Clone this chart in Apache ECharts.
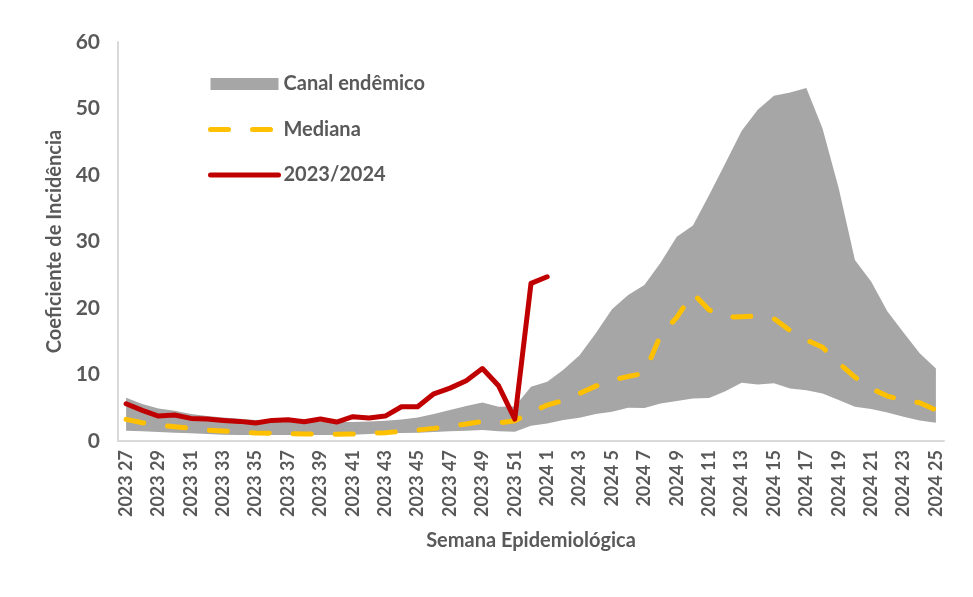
<!DOCTYPE html>
<html><head><meta charset="utf-8">
<script src="https://cdn.jsdelivr.net/npm/echarts@6/dist/echarts.min.js"></script>
<style>html,body{margin:0;padding:0;background:#fff}#c{width:973px;height:597px}</style>
</head><body><div id="c"></div>
<script>
const weeks = ['2023 27','2023 28','2023 29','2023 30','2023 31','2023 32','2023 33','2023 34','2023 35','2023 36','2023 37','2023 38','2023 39','2023 40','2023 41','2023 42','2023 43','2023 44','2023 45','2023 46','2023 47','2023 48','2023 49','2023 50','2023 51','2023 52',
'2024 1','2024 2','2024 3','2024 4','2024 5','2024 6','2024 7','2024 8','2024 9','2024 10','2024 11','2024 12','2024 13','2024 14','2024 15','2024 16','2024 17','2024 18','2024 19','2024 20','2024 21','2024 22','2024 23','2024 24','2024 25'];
const canalLower = [1.55,1.45,1.35,1.25,1.15,1.05,0.95,0.9,0.9,0.9,0.9,0.9,0.9,0.9,0.95,1.05,1.15,1.2,1.25,1.35,1.45,1.55,1.65,1.45,1.4,2.3,2.65,3.15,3.5,4.05,4.4,5.0,4.95,5.65,6.0,6.4,6.45,7.5,8.75,8.5,8.7,7.9,7.65,7.15,6.15,5.15,4.8,4.3,3.65,3.1,2.75];
const canalUpper = [6.5,5.55,4.9,4.55,4.05,3.75,3.55,3.35,3.15,3.1,3.0,2.85,2.85,2.85,2.85,2.95,3.05,3.25,3.55,4.05,4.65,5.25,5.8,5.15,5.2,8.15,8.9,10.7,12.9,16.2,19.8,21.95,23.45,26.8,30.7,32.4,37.0,41.75,46.6,49.8,51.9,52.4,53.1,47.0,38.0,27.2,24.0,19.5,16.3,13.2,10.9];
const mediana = [3.25,2.75,2.4,2.15,1.9,1.65,1.5,1.35,1.2,1.15,1.1,1.05,1.05,1.0,1.05,1.15,1.25,1.45,1.65,1.9,2.25,2.55,2.95,2.7,3.05,4.3,5.4,6.1,7.15,8.25,9.15,9.7,10.2,15.9,18.6,22.2,19.7,18.6,18.7,18.8,18.4,16.6,15.2,14.1,11.7,9.6,7.9,6.75,6.15,5.75,4.65];
const atual = [5.6,4.6,3.75,3.9,3.4,3.3,3.1,2.95,2.7,3.1,3.2,2.9,3.3,2.85,3.65,3.45,3.75,5.15,5.15,7.1,7.95,9.05,10.9,8.3,3.3,23.7,24.7];
const yTicks = [0,10,20,30,40,50,60];

const band = canalUpper.map((u,i)=>+(u-canalLower[i]).toFixed(3));
const FONT = 'Lato';
const TXT = '#595959';
const chart = echarts.init(document.getElementById('c'), null, {renderer:'canvas'});
chart.setOption({
  animation:false,
  backgroundColor:'#ffffff',
  grid:{left:118,right:29,top:42,bottom:156,containLabel:false},
  legend:{
    orient:'vertical', left:203, top:69, itemWidth:68, itemHeight:12, itemGap:25.5,
    textStyle:{fontFamily:FONT,fontWeight:'bold',fontSize:20,color:TXT,lineHeight:20},
    data:[
      {name:'Canal endêmico', icon:'rect'},
      {name:'Mediana', itemStyle:{opacity:0}, lineStyle:{width:5,cap:'round',type:[18,24]}},
      {name:'2023/2024', itemStyle:{opacity:0}, lineStyle:{width:5,cap:'round'}}
    ]
  },
  xAxis:{
    type:'category', data:weeks, boundaryGap:true,
    axisLine:{show:true,lineStyle:{color:'#D9D9D9',width:2}},
    axisTick:{show:false},
    axisLabel:{rotate:90, interval:1, margin:9, fontFamily:FONT, fontWeight:'bold', fontSize:18, color:TXT},
    name:'Semana Epidemiológica', nameLocation:'middle', nameGap:90,
    nameTextStyle:{fontFamily:FONT,fontWeight:'bold',fontSize:20,color:TXT}
  },
  yAxis:{
    type:'value', min:0, max:60, interval:10,
    axisLine:{show:true,lineStyle:{color:'#D9D9D9',width:2}},
    axisTick:{show:false}, splitLine:{show:false},
    axisLabel:{margin:18, fontFamily:FONT, fontWeight:'bold', fontSize:21, color:TXT,
      formatter:v=>yTicks.includes(v)?String(v):''},
    name:'Coeficiente de Incidência', nameLocation:'middle', nameGap:48, nameRotate:90,
    nameTextStyle:{fontFamily:FONT,fontWeight:'bold',fontSize:20,color:TXT}
  },
  series:[
    {name:'lower', type:'line', stack:'canal', data:canalLower, symbol:'none', lineStyle:{opacity:0}, areaStyle:{opacity:0}, silent:true, z:1},
    {name:'Canal endêmico', type:'line', stack:'canal', data:band, symbol:'none', color:'#A6A6A6', lineStyle:{width:0,color:'#A6A6A6'}, areaStyle:{color:'#A6A6A6',opacity:1}, z:1},
    {name:'Mediana', type:'line', data:mediana, symbol:'none', color:'#FFC000', lineStyle:{color:'#FFC000',width:5,type:[18,24],cap:'round',join:'round'}, z:3},
    {name:'2023/2024', type:'line', data:atual, symbol:'none', color:'#C00000', lineStyle:{color:'#C00000',width:5,cap:'round',join:'round'}, z:4}
  ]
});
</script></body></html>
